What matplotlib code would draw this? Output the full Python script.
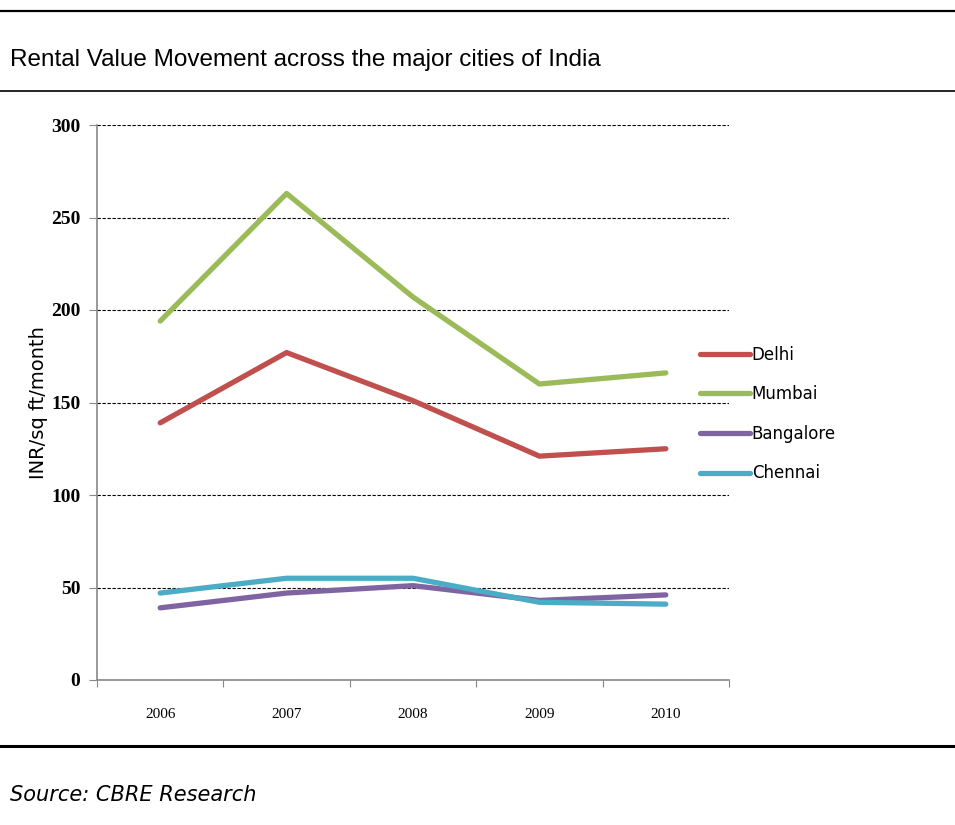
import matplotlib
matplotlib.use('Agg')
import matplotlib.pyplot as plt
from matplotlib.lines import Line2D

years = ['2006', '2007', '2008', '2009', '2010']
cities = ['Delhi', 'Mumbai', 'Bangalore', 'Chennai']
delhi = [139, 177, 151, 121, 125]
mumbai = [194, 263, 207, 160, 166]
bangalore = [39, 47, 51, 43, 46]
chennai = [47, 55, 55, 42, 41]
colors = ['#C0504D', '#9BBB59', '#8064A2', '#4BACC6']

W, H = 955, 825
fig = plt.figure(figsize=(W / 100, H / 100), dpi=100)
ax = fig.add_axes([97 / W, 1 - 680 / H, (729 - 97) / W, (680 - 125) / H])

x = list(range(len(years)))
for name, vals, c in zip(cities, [delhi, mumbai, bangalore, chennai], colors):
    ax.plot(x, vals, color=c, linewidth=3.8, label=name, solid_capstyle='round')

ax.set_xlim(-0.5, len(years) - 0.5)
ax.set_ylim(0, 300)
ax.set_yticks(range(0, 301, 50))
ax.set_yticklabels([str(v) for v in range(0, 301, 50)], fontfamily='Liberation Serif',
                   fontweight='bold', fontsize=14)
ax.yaxis.grid(True, color='black', linestyle=(0, (3, 1.5)), linewidth=0.8)
ax.set_axisbelow(True)

ax.set_xticks([i - 0.5 for i in range(len(years) + 1)])
ax.set_xticklabels([])
ax.set_xticks(x, minor=True)
ax.set_xticklabels(years, minor=True, fontfamily='Liberation Serif', fontsize=11)
ax.tick_params(axis='x', which='minor', length=0, pad=20)
ax.tick_params(axis='x', which='major', length=5, color='#888888', direction='out')
ax.tick_params(axis='y', length=6, color='#888888', direction='out', pad=6)

for s in ['top', 'right']:
    ax.spines[s].set_visible(False)
for s in ['left', 'bottom']:
    ax.spines[s].set_color('#888888')
    ax.spines[s].set_linewidth(1.2)

ax.set_ylabel('INR/sq ft/month', fontsize=14, fontfamily='DejaVu Sans', labelpad=2)

leg = fig.legend(loc='center left', bbox_to_anchor=(700 / W, 1 - 414 / H), frameon=False,
                 handlelength=3.0, handletextpad=0.1, labelspacing=1.3,
                 borderpad=0, borderaxespad=0,
                 prop={'family': 'DejaVu Sans', 'size': 12})

fig.add_artist(Line2D([0, 1], [1 - 11 / H, 1 - 11 / H], color='black', linewidth=1.6))
fig.add_artist(Line2D([0, 1], [1 - 91 / H, 1 - 91 / H], color='black', linewidth=1.2))
fig.add_artist(Line2D([0, 1], [1 - 746 / H, 1 - 746 / H], color='black', linewidth=2.2))

fig.text(10 / W, 1 - 60 / H, 'Rental Value Movement across the major cities of India',
         fontsize=17.5, fontfamily='Liberation Sans', va='center', ha='left')
fig.text(10 / W, 1 - 795 / H, 'Source: CBRE Research', fontsize=15,
         fontfamily='DejaVu Sans', style='italic', va='center', ha='left')

fig.savefig('out.png', dpi=100)
